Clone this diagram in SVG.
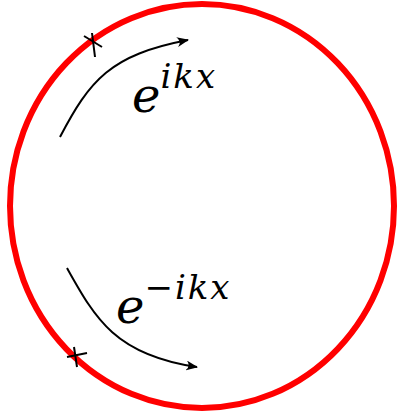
<svg xmlns="http://www.w3.org/2000/svg" width="398" height="413" viewBox="0 0 398 413">
<style>
.ln{fill:none;stroke:#000;stroke-width:2}
.t{font-family:"DejaVu Serif","Liberation Serif",serif;font-style:italic;fill:#000}
</style>
<defs>
<marker id="ah" viewBox="0 0 12 10" refX="11" refY="5" markerWidth="12" markerHeight="10" markerUnits="userSpaceOnUse" orient="auto">
<path d="M0,0 Q5,5 0,10 L12,5 Z" fill="#000"/>
</marker>
</defs>
<rect width="398" height="413" fill="#fff"/>
<g id="circle"><ellipse cx="202" cy="206" rx="192" ry="202" fill="none" stroke="#f00" stroke-width="6"/></g>
<g id="marks">
<line class="ln" x1="84" y1="36" x2="102" y2="47"/>
<line class="ln" x1="92" y1="33" x2="95" y2="57"/>
<line class="ln" x1="67" y1="357" x2="87" y2="353"/>
<line class="ln" x1="74" y1="347" x2="77" y2="367"/>
</g>
<g id="connectors">
<path class="ln" d="M60,137 C90,80 110,55 188,40" marker-end="url(#ah)"/>
<path class="ln" d="M67,268 C95,318 115,355 197,367" marker-end="url(#ah)"/>
</g>
<g id="label-top"><text class="t" x="132" y="112" font-size="48">e<tspan font-size="34" dy="-24" letter-spacing="2">ikx</tspan></text></g>
<g id="label-bottom"><text class="t" x="116" y="323" font-size="48">e<tspan font-size="34" dy="-24" letter-spacing="2">−ikx</tspan></text></g>
</svg>
